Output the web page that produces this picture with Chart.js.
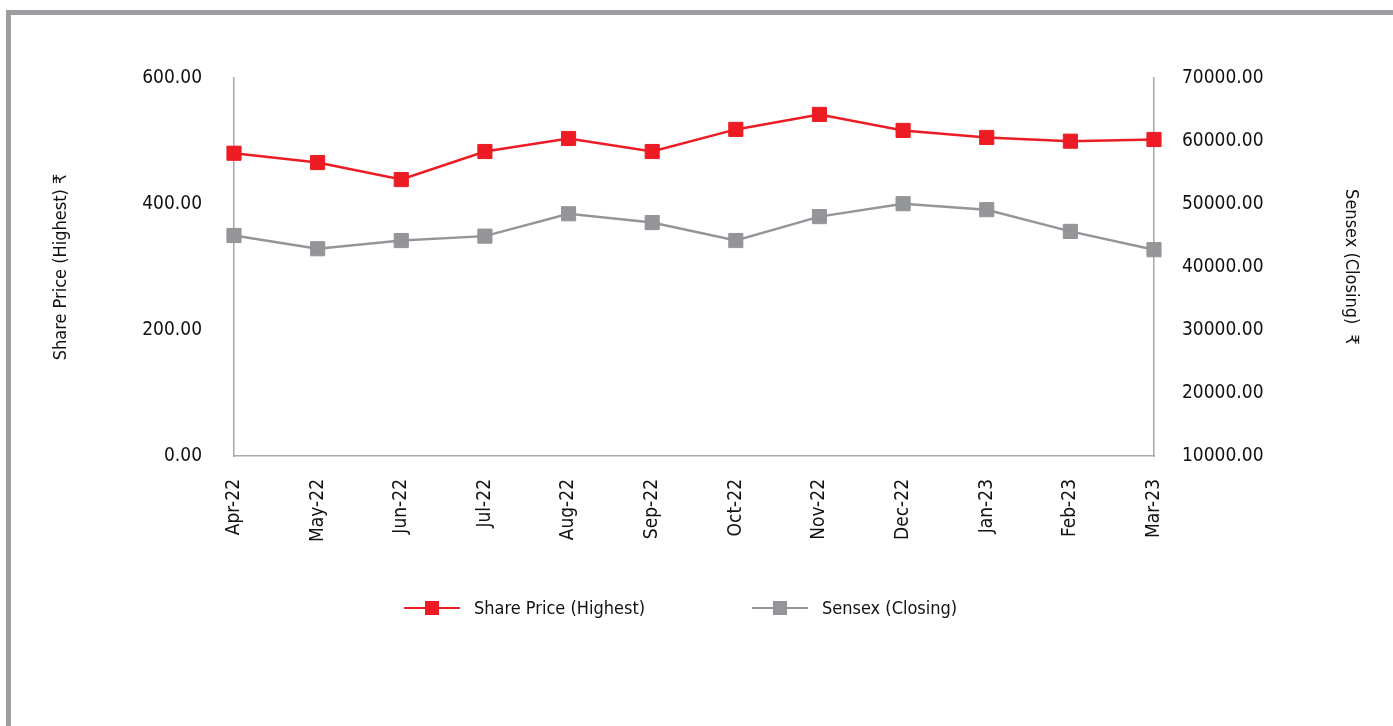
<!DOCTYPE html>
<html>
<head>
<meta charset="utf-8">
<script src="https://cdn.jsdelivr.net/npm/chart.js@4/dist/chart.umd.min.js"></script>
<style>
  html, body { margin: 0; padding: 0; background: #fff; overflow: hidden; }
  body { width: 1393px; height: 726px; position: relative; }
  #frame {
    position: absolute; left: 6px; top: 10px; width: 1500px; height: 800px;
    border-top: 5px solid #9d9ea2; border-left: 5px solid #9d9ea2;
  }
  #wrap { position: absolute; left: 0; top: 0; width: 1393px; height: 726px; }
  #legend {
    position: absolute; left: 404px; top: 597px; display: flex; align-items: center;
    font-family: "Liberation Sans Narrow", "DejaVu Sans Condensed", "Roboto Condensed", sans-serif;
    font-size: 18px; color: #111;
  }
  .item { display: flex; align-items: center; }
  .item:first-child { width: 348px; }
  .mark { position: relative; width: 56px; height: 16px; margin-right: 14px; }
  .mark .ln { position: absolute; left: 0; right: 0; top: 7px; height: 2.5px; }
  .mark .sq { position: absolute; left: 21px; top: 1px; width: 14px; height: 14px; }
</style>
</head>
<body>
<div id="frame"></div>
<div id="wrap"><canvas id="chart" width="1393" height="726"></canvas></div>
<div id="legend"></div>
<script>
const months = ['Apr-22', 'May-22', 'Jun-22', 'Jul-22', 'Aug-22', 'Sep-22',
                'Oct-22', 'Nov-22', 'Dec-22', 'Jan-23', 'Feb-23', 'Mar-23'];
const sharePrice = [480.6, 465.8, 438.8, 483.3, 504.0, 483.3, 518.4, 542.2, 516.8, 505.6, 499.7, 502.4];
const sensex = [45000, 42900, 44200, 44900, 48450, 47050, 44200, 48000, 50050, 49100, 45650, 42750];

const RED = '#ed1c24';
const GREY = '#939598';
const AXIS = '#a8a9ad';
const FONT = '"Liberation Sans Narrow", "DejaVu Sans Condensed", "Roboto Condensed", sans-serif';

Chart.defaults.font.family = FONT;
Chart.defaults.color = '#111';

const series = [
  { label: 'Share Price (Highest)', data: sharePrice, color: RED, axis: 'yL' },
  { label: 'Sensex (Closing)', data: sensex, color: GREY, axis: 'yR' },
];

const ctx = document.getElementById('chart');
new Chart(ctx, {
  type: 'line',
  data: {
    labels: months,
    datasets: series.map(s => ({
      label: s.label,
      data: s.data,
      yAxisID: s.axis,
      borderColor: s.color,
      backgroundColor: s.color,
      borderWidth: 2.5,
      pointStyle: 'rect',
      pointRadius: 10,
      pointBorderWidth: 1,
      pointBorderColor: s.color,
      pointBackgroundColor: s.color,
      tension: 0,
    }))
  },
  options: {
    responsive: false,
    animation: false,
    layout: { padding: { left: 40, right: 0, top: 78, bottom: 0 } },
    plugins: { legend: { display: false }, tooltip: { enabled: false } },
    scales: {
      x: {
        offset: false,
        grid: { display: false },
        border: { display: true, color: AXIS, width: 1.5 },
        ticks: { autoSkip: false, minRotation: 90, maxRotation: 90, padding: 15, font: { size: 19 } },
        afterFit: (s) => { s.height = 270; },
      },
      yL: {
        position: 'left',
        min: 0, max: 600,
        grid: { display: false },
        border: { display: true, color: AXIS, width: 1.5 },
        ticks: { stepSize: 200, padding: 24, font: { size: 19 }, callback: v => Number(v).toFixed(2) },
        title: { display: true, text: 'Share Price (Highest) ₹', font: { size: 18 }, padding: { top: 11, bottom: 0 } },
        afterFit: (s) => { s.width = 194; },
      },
      yR: {
        position: 'right',
        min: 10000, max: 70000,
        grid: { display: false },
        border: { display: true, color: AXIS, width: 1.5 },
        ticks: { stepSize: 10000, padding: 20, font: { size: 19 }, callback: v => Number(v).toFixed(2) },
        title: { display: true, text: 'Sensex (Closing)  ₹', font: { size: 18 }, padding: { top: 32, bottom: 0 } },
        afterFit: (s) => { s.width = 239; },
      },
    },
  },
});

// legend: line with square marker, as in the source
const legend = document.getElementById('legend');
for (const s of series) {
  const item = document.createElement('div');
  item.className = 'item';
  item.innerHTML = `<span class="mark"><span class="ln" style="background:${s.color}"></span>` +
    `<span class="sq" style="background:${s.color}"></span></span><span>${s.label}</span>`;
  legend.appendChild(item);
}
</script>
</body>
</html>
